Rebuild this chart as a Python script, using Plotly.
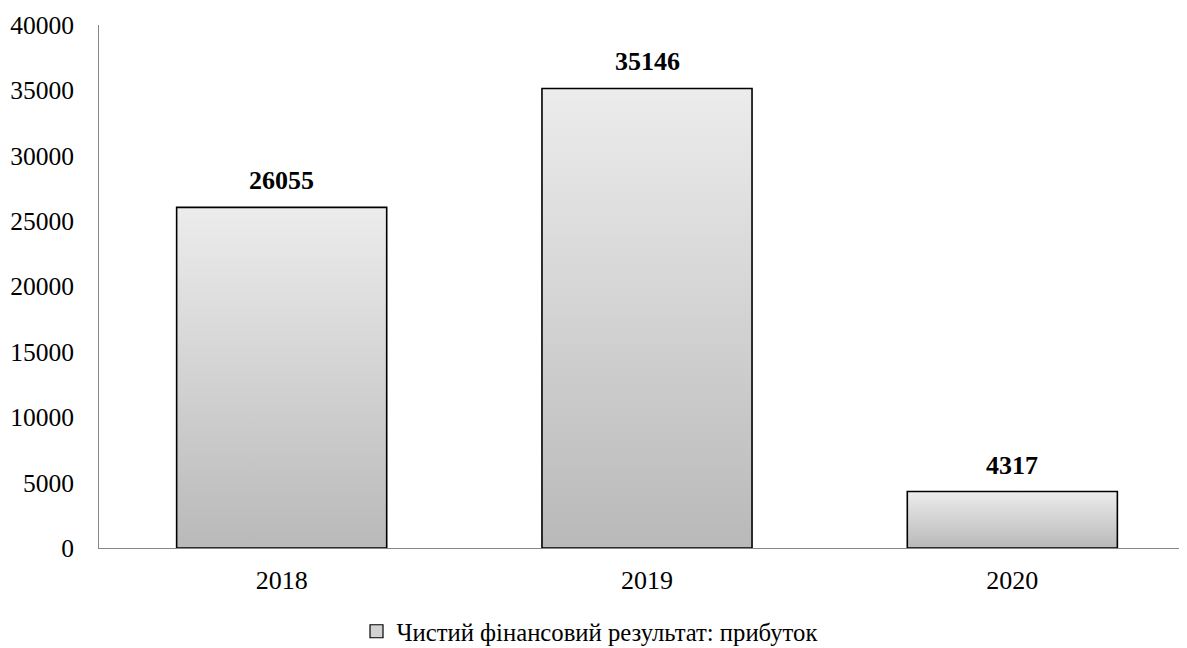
import plotly.graph_objects as go

categories = ["2018", "2019", "2020"]
values = [26055, 35146, 4317]
series_name = "Чистий фінансовий результат: прибуток"
y_ticks = [0, 5000, 10000, 15000, 20000, 25000, 30000, 35000, 40000]
y_tick_text = [str(v) for v in y_ticks]

FONT = "Liberation Serif"
BAR_W = 0.575

fig = go.Figure()
for i, (c, v) in enumerate(zip(categories, values)):
    x0, x1 = i - BAR_W / 2, i + BAR_W / 2
    fig.add_trace(go.Scatter(
        x=[x0, x0, x1, x1, x0], y=[0, v, v, 0, 0],
        mode="lines", fill="toself",
        fillgradient=dict(type="vertical",
                          colorscale=[[0, "#b9b9b9"], [1, "#ececec"]]),
        line=dict(color="#000000", width=1.6),
        name=series_name, showlegend=False,
        hoverinfo="skip",
    ))
    fig.add_annotation(x=i, y=v, xref="x", yref="y", text=f"<b>{v}</b>", showarrow=False,
                       yanchor="bottom", yshift=10,
                       font=dict(family=FONT, size=26, color="#000000"))

# legend entry (square swatch)
fig.add_trace(go.Scatter(
    x=[None], y=[None], mode="markers", name=series_name,
    marker=dict(symbol="square", size=13, color="#d2d2d2",
                line=dict(color="#000000", width=1.2)),
    showlegend=True,
))

fig.update_layout(
    width=1187, height=648,
    margin=dict(l=91, r=0, t=17, b=108, autoexpand=False),
    paper_bgcolor="white", plot_bgcolor="white",
    font=dict(family=FONT, size=26, color="#000000"),
    showlegend=True,
    legend=dict(orientation="h", x=0.448, xanchor="center",
                y=-0.16, yanchor="middle",
                font=dict(family=FONT, size=24.7, color="#000000"), itemwidth=30),
    xaxis=dict(range=[-0.5, 2.5], tickvals=list(range(len(categories))), ticktext=categories,
               showline=True, linecolor="#868686", linewidth=1, ticks="", showgrid=False,
               zeroline=False, ticklabelstandoff=9, tickfont=dict(family=FONT, size=26)),
    yaxis=dict(range=[0, 40000], tickvals=y_ticks, ticktext=y_tick_text, showline=True,
               linecolor="#868686", linewidth=1, ticks="", showgrid=False, zeroline=False,
               ticklabelstandoff=19, tickfont=dict(family=FONT, size=25.5)),
)
fig.write_html("out.html")
